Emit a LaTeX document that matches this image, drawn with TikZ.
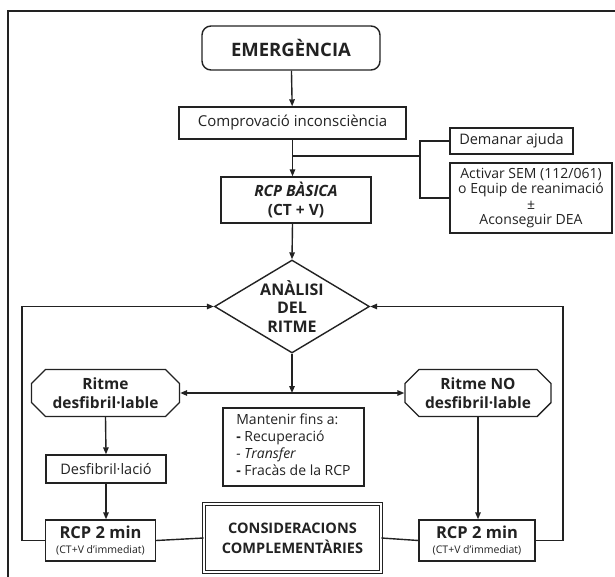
\documentclass[tikz,border=0pt]{standalone}
\usepackage{fontspec}
\setmainfont{Open Sans}
\usetikzlibrary{arrows.meta,shapes.geometric,shapes.misc}
\definecolor{ink}{HTML}{222222}
\begin{document}
\begin{tikzpicture}[x=1pt,y=-1pt,
  ln/.style={draw=ink, line width=1.4pt},
  box/.style={draw=ink, line width=1.4pt, rectangle, inner sep=0pt, align=center,
    font=\fontsize{14.5}{16}\selectfont, text=ink},
  head/.style={font=\bfseries\fontsize{15.5}{18.5}\selectfont},
  chbox/.style={box, chamfered rectangle, chamfered rectangle xsep=7pt,
    chamfered rectangle ysep=7pt, chamfered rectangle angle=45, inner sep=0pt,
    head},
  arr/.style={ln, -{Triangle[length=7pt,width=5.5pt]}},
  darr/.style={ln, {Triangle[length=7pt,width=5.5pt]}-{Triangle[length=7pt,width=5.5pt]}}]
\path[use as bounding box, fill=white] (0,0) rectangle (615,577);
% frame
\draw[ink, line width=2pt] (8,577) -- (8,11) -- (615,11);

% nodes
\node[box, rounded corners=9pt, minimum width=178pt, minimum height=44pt,
  font=\bfseries\fontsize{18.5}{20}\selectfont] (emerg) at (291,48) {EMERGÈNCIA};
\node[box, minimum width=227pt, minimum height=32pt, font=\fontsize{15}{17}\selectfont] (comp) at (292.5,123) {Comprovació inconsciència};
\node[box, minimum width=123pt, minimum height=26pt] (dem) at (511.5,141) {Demanar ajuda};
\node[box, minimum width=162pt, minimum height=70pt, font=\fontsize{14}{15.5}\selectfont] (act) at (531,198)
  {Activar SEM (112/061)\\o Equip de reanimació\\±\\Aconseguir DEA};
\node[box, minimum width=150pt, minimum height=46pt, head] (rcpb) at (296,200)
  {\textit{RCP BÀSICA}\\(CT + V)};
\node[draw=ink, line width=1.4pt, diamond, aspect=1.667, minimum width=155pt, minimum height=93pt,
  inner sep=0pt, align=center, text=ink, font=\bfseries\fontsize{16}{18.5}\selectfont] (anal) at (292,306.5)
  {ANÀLISI\\DEL\\RITME};
\node[chbox, minimum width=148pt, minimum height=47pt] (rit1) at (105.5,393) {Ritme\\desfibril·lable};
\node[chbox, minimum width=146pt, minimum height=47pt] (rit2) at (478,393) {Ritme NO\\desfibril·lable};
\node[box, minimum width=141pt, minimum height=78pt, font=\fontsize{14}{17}\selectfont] (mant) at (293.5,447)
  {\begin{tabular}{@{}l@{}}Mantenir fins a:\\\textbf{-} Recuperació\\\textit{- Transfer}\\\textbf{-} Fracàs de la RCP\end{tabular}};
\node[box, minimum width=120pt, minimum height=28pt] (desf) at (106,469) {Desfibril·lació};
\node[box, minimum width=110pt, minimum height=41pt] (rcp1) at (100.5,540.5)
  {{\bfseries\fontsize{16.5}{18}\selectfont RCP 2 min}\\[-1pt]{\fontsize{10.5}{11}\selectfont (CT+V d’immediat)}};
\node[box, minimum width=116pt, minimum height=41pt] (rcp2) at (477,540.5)
  {{\bfseries\fontsize{16.5}{18}\selectfont RCP 2 min}\\[-1pt]{\fontsize{10.5}{11}\selectfont (CT+V d’immediat)}};
\node[box, double=white, double distance=1.6pt, line width=0.9pt, minimum width=177pt, minimum height=68pt,
  font=\bfseries\fontsize{14.5}{20}\selectfont] (cons) at (292.5,538)
  {CONSIDERACIONS\\COMPLEMENTÀRIES};

% connectors
\coordinate (br) at (comp.south |- 0,156);
\coordinate (bx) at (420,156);
\draw[arr] (emerg) -- (comp);
\draw[arr] (comp.south) -- (comp.south |- rcpb.north);
\draw[ln] (br) -- (bx);
\draw[ln] (dem.west) -| (bx) |- (act.west);
\draw[arr] (rcpb.south -| comp.south) -- (anal.north);
\coordinate (jn) at (anal.south |- rit1.east);
\draw[arr] (anal.south) -- (jn);
\draw[darr] (rit1.east) -- (rit2.west);
\draw[arr] (rit1.south) -- (desf.north);
\draw[arr] (desf.south) -- (desf.south |- rcp1.north);
\draw[arr] (rit2.south) -- (rit2.south |- rcp2.north);
\draw[ln] (rcp1.east) -- (cons.west);
\draw[ln] (cons.east) -- (rcp2.west);
\coordinate (lc) at (22,540.5);
\coordinate (rc) at (563,540.5);
\draw[arr] (rcp1.west) -- (lc) |- (anal.west);
\draw[arr] (rcp2.east) -- (rc) |- (anal.east);
\end{tikzpicture}
\end{document}
